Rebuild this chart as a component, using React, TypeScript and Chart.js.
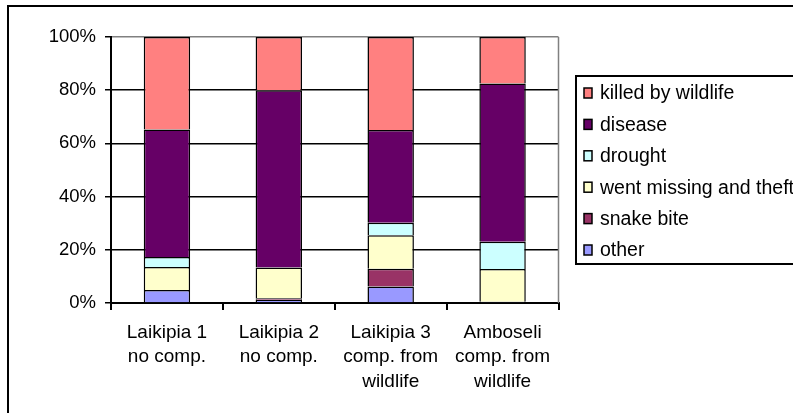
import React, { useEffect, useRef } from "react";
import { Chart, registerables } from "chart.js";

Chart.register(...registerables);

const categories: string[][] = [
  ["Laikipia 1", "no comp."],
  ["Laikipia 2", "no comp."],
  ["Laikipia 3", "comp. from", "wildlife"],
  ["Amboseli", "comp. from", "wildlife"],
];

const other = [4.9, 1.2, 6.2, 0.5];
const snakeBite = [0, 0.6, 6.7, 0];
const wentMissing = [8.6, 11.5, 12.6, 12.3];
const drought = [3.8, 0, 4.7, 10.2];
const disease = [47.9, 66.7, 34.8, 59.5];
const killedByWildlife = [34.8, 20, 35, 17.5];

const yTicks = [0, 20, 40, 60, 80, 100];

const FONT = "'Liberation Sans', Arial, sans-serif";

const frame = {
  id: "frame",
  beforeDraw(chart: any) {
    const ctx = chart.ctx;
    ctx.save();
    ctx.fillStyle = "#fff";
    ctx.fillRect(0, 0, chart.width, chart.height);
    ctx.strokeStyle = "#000";
    ctx.lineWidth = 2;
    ctx.strokeRect(8, 6, chart.width + 20, chart.height + 20);
    ctx.restore();
  },
  beforeDatasetsDraw(chart: any) {
    const { ctx, chartArea } = chart;
    ctx.save();
    ctx.strokeStyle = "#808080";
    ctx.lineWidth = 1.5;
    ctx.beginPath();
    ctx.moveTo(chartArea.right, chartArea.top);
    ctx.lineTo(chartArea.right, chartArea.bottom);
    ctx.stroke();
    ctx.restore();
  },
  afterDraw(chart: any) {
    const ctx = chart.ctx;
    const ds = chart.data.datasets.slice().reverse();
    ctx.save();
    ctx.strokeStyle = "#000";
    ctx.lineWidth = 2;
    ctx.strokeRect(576, 76, 300, 188);
    ctx.font = `19.5px ${FONT}`;
    ctx.textBaseline = "middle";
    ctx.textAlign = "left";
    ds.forEach((d: any, i: number) => {
      const yc = 93 + i * 31.4;
      ctx.fillStyle = d.backgroundColor;
      ctx.fillRect(584, yc - 5, 8, 10);
      ctx.lineWidth = 1.5;
      ctx.strokeStyle = "#000";
      ctx.strokeRect(584, yc - 5, 8, 10);
      ctx.fillStyle = "#000";
      ctx.fillText(d.label, 600, yc + 1);
    });
    ctx.restore();
  },
};

export default function App() {
  const ref = useRef<HTMLCanvasElement>(null);
  useEffect(() => {
    if (!ref.current) return;
    const mk = (label: string, data: number[], color: string) => ({
      label,
      data,
      backgroundColor: color,
      borderColor: "#000",
      borderWidth: 1.5,
      barPercentage: 0.415,
      categoryPercentage: 1,
    });
    const chart = new Chart(ref.current, {
      type: "bar",
      data: {
        labels: categories,
        datasets: [
          mk("other", other, "#9999FF"),
          mk("snake bite", snakeBite, "#993366"),
          mk("went missing and theft", wentMissing, "#FFFFCC"),
          mk("drought", drought, "#CCFFFF"),
          mk("disease", disease, "#660066"),
          mk("killed by wildlife", killedByWildlife, "#FF8080"),
        ],
      },
      options: {
        responsive: false,
        animation: false,
        devicePixelRatio: 1,
        layout: { padding: { left: 0, right: 234.5, top: 37, bottom: 0 } },
        plugins: { legend: { display: false }, tooltip: { enabled: false } },
        scales: {
          x: {
            stacked: true,
            afterFit: (s: any) => {
              s.height = 110;
            },
            border: { color: "#000", width: 2 },
            grid: {
              offset: true,
              drawOnChartArea: false,
              drawTicks: true,
              tickLength: 7,
              color: "#000",
              lineWidth: 2,
            },
            ticks: {
              color: "#000",
              padding: 10,
              font: { family: FONT, size: 19, lineHeight: 1.3 },
              maxRotation: 0,
              autoSkip: false,
            },
          },
          y: {
            stacked: true,
            min: 0,
            max: 100,
            afterFit: (s: any) => {
              s.width = 111;
            },
            afterBuildTicks: (s: any) => {
              s.ticks = yTicks.map((v) => ({ value: v }));
            },
            border: { color: "#000", width: 2 },
            grid: {
              color: (c: any) => (c.tick && c.tick.value === 100 ? "#808080" : "#000"),
              tickColor: "#000",
              lineWidth: 1.5,
              tickLength: 6,
            },
            ticks: {
              color: "#000",
              padding: 9,
              font: { family: FONT, size: 18.5 },
              callback: (v: any) => v + "%",
            },
          },
        },
      },
      plugins: [frame],
    });
    return () => chart.destroy();
  }, []);
  return (
    <div style={{ position: "absolute", left: 0, top: 0, width: 793, height: 413 }}>
      <canvas ref={ref} width={793} height={413} style={{ width: 793, height: 413, display: "block" }} />
    </div>
  );
}
